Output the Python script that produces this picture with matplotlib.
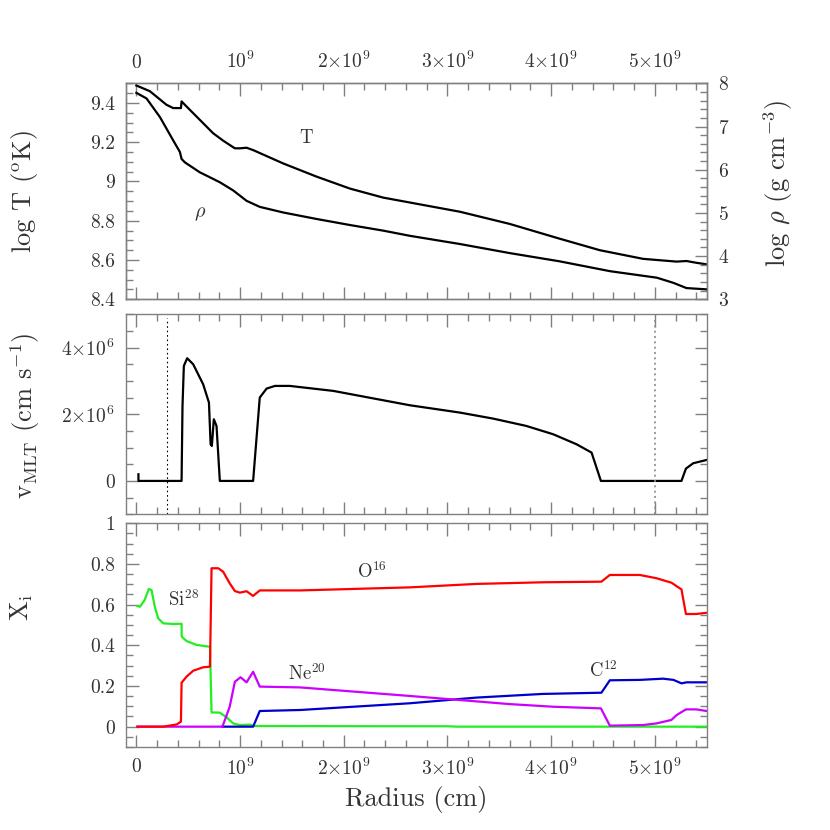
import numpy as np
import matplotlib
matplotlib.use("Agg")
import matplotlib.pyplot as plt
from matplotlib.ticker import MultipleLocator, FixedLocator, FixedFormatter

plt.rcParams['font.family'] = 'serif'
plt.rcParams['font.serif'] = ['cmr10', 'DejaVu Serif']
plt.rcParams['mathtext.fontset'] = 'cm'
plt.rcParams['axes.unicode_minus'] = False
plt.rcParams['axes.formatter.use_mathtext'] = True

# ---------------- data (radius in units of 1e9 cm) ----------------
T_r = [0.0, 0.13, 0.29, 0.355, 0.43, 0.436, 0.484, 0.612, 0.74, 0.837, 0.95, 0.998,
       1.063, 1.126, 1.416, 1.737, 2.059, 2.38, 2.637, 3.12, 3.60, 4.08, 4.47,
       4.887, 5.21, 5.305, 5.40, 5.50]
logT = [9.489, 9.46, 9.391, 9.374, 9.374, 9.408, 9.382, 9.314, 9.246, 9.208, 9.169,
        9.169, 9.172, 9.16, 9.092, 9.025, 8.964, 8.918, 8.893, 8.846, 8.784, 8.709,
        8.650, 8.606, 8.592, 8.595, 8.586, 8.578]

rho_r = [0.0, 0.098, 0.227, 0.355, 0.42, 0.436, 0.468, 0.612, 0.805, 0.934, 1.063,
         1.19, 1.416, 1.737, 2.059, 2.38, 2.637, 3.12, 3.60, 4.08, 4.57, 5.02,
         5.18, 5.305, 5.50]
logrho = [7.78, 7.65, 7.22, 6.68, 6.41, 6.25, 6.17, 5.94, 5.71, 5.52, 5.28, 5.14,
          5.01, 4.86, 4.72, 4.59, 4.47, 4.28, 4.07, 3.88, 3.65, 3.50, 3.38, 3.26, 3.23]

v_r = [0.02, 0.02, 0.436, 0.445, 0.458, 0.49, 0.548, 0.644, 0.70, 0.716, 0.728,
       0.747, 0.773, 0.805, 1.126, 1.19, 1.256, 1.336, 1.48, 1.90, 2.637, 3.12,
       3.44, 3.76, 4.02, 4.245, 4.39, 4.48, 5.257, 5.30, 5.37, 5.50]
v_mlt = [0.2, 0.0, 0.0, 2.25, 3.45, 3.68, 3.5, 2.9, 2.35, 1.1, 1.05, 1.85, 1.65,
         0.0, 0.0, 2.5, 2.77, 2.85, 2.85, 2.7, 2.27, 2.05, 1.87, 1.65, 1.4, 1.1,
         0.85, 0.0, 0.0, 0.37, 0.53, 0.63]  # units of 1e6 cm/s

si_r = [0.01, 0.035, 0.08, 0.12, 0.146, 0.178, 0.21, 0.26, 0.355, 0.436, 0.437,
        0.484, 0.58, 0.71, 0.725, 0.805, 0.87, 0.934, 0.998, 1.094, 1.14, 3.0, 3.1, 5.5]
si28 = [0.593, 0.59, 0.623, 0.677, 0.672, 0.59, 0.533, 0.508, 0.505, 0.506, 0.443,
        0.421, 0.402, 0.393, 0.07, 0.069, 0.046, 0.016, 0.008, 0.01, 0.003, 0.002,
        0.0, 0.0]

o_r = [0.01, 0.26, 0.39, 0.43, 0.436, 0.484, 0.548, 0.644, 0.71, 0.725, 0.79, 0.837,
       0.90, 0.95, 0.998, 1.063, 1.126, 1.19, 1.58, 2.637, 3.28, 3.92, 4.485,
       4.566, 4.855, 5.016, 5.16, 5.257, 5.30, 5.40, 5.50]
o16 = [0.0, 0.0, 0.011, 0.025, 0.216, 0.246, 0.275, 0.292, 0.295, 0.779, 0.779,
       0.762, 0.705, 0.667, 0.659, 0.666, 0.643, 0.670, 0.670, 0.685, 0.702, 0.71,
       0.713, 0.746, 0.746, 0.73, 0.708, 0.675, 0.554, 0.554, 0.56]

ne_r = [0.01, 0.83, 0.90, 0.95, 1.005, 1.063, 1.126, 1.19, 1.58, 2.637, 3.12, 3.60,
        4.02, 4.48, 4.566, 4.887, 5.016, 5.16, 5.21, 5.30, 5.40, 5.50]
ne20 = [0.0, 0.0, 0.098, 0.221, 0.243, 0.218, 0.27, 0.197, 0.193, 0.151, 0.131,
        0.111, 0.098, 0.09, 0.005, 0.008, 0.016, 0.033, 0.057, 0.085, 0.085, 0.077]

c_r = [0.83, 1.126, 1.19, 1.58, 2.637, 3.28, 3.92, 4.485, 4.566, 4.855, 5.08, 5.18,
       5.257, 5.305, 5.50]
c12 = [0.0, 0.0, 0.077, 0.082, 0.115, 0.143, 0.161, 0.167, 0.228, 0.23, 0.236, 0.23,
       0.213, 0.218, 0.218]

x_ticks = [0, 1, 2, 3, 4, 5]
x_ticklabels = ['0', r'$10^9$', r'$2{\times}10^9$', r'$3{\times}10^9$',
                r'$4{\times}10^9$', r'$5{\times}10^9$']
T_ticks = [8.4, 8.6, 8.8, 9.0, 9.2, 9.4]
T_ticklabels = ['8.4', '8.6', '8.8', '9', '9.2', '9.4']
rho_ticks = [3, 4, 5, 6, 7, 8]
v_ticks = [0, 2, 4]
v_ticklabels = ['0', r'$2{\times}10^6$', r'$4{\times}10^6$']
X_ticks = [0, 0.2, 0.4, 0.6, 0.8, 1.0]
X_ticklabels = ['0', '0.2', '0.4', '0.6', '0.8', '1']

E9 = 1e9
E6 = 1e6

# ---------------- style ----------------
SPINE = '0.5'
TXT = '0.2'
FS_TICK = 14
FS_LAB = 19
FS_IN = 13.5

fig = plt.figure(figsize=(8.3, 8.3), dpi=100)
L, W = 0.1518, 0.6996
ax1 = fig.add_axes([L, 0.6394, W, 0.2602])
ax2 = fig.add_axes([L, 0.3804, W, 0.2410])
ax3 = fig.add_axes([L, 0.1000, W, 0.2695])
ax1r = ax1.twinx()


def style(ax):
    for s in ax.spines.values():
        s.set_color(SPINE)
        s.set_linewidth(1.0)
    ax.tick_params(which='both', direction='in', colors=SPINE, labelcolor=TXT,
                   labelsize=FS_TICK, pad=8)
    ax.tick_params(which='major', length=9, width=1.0)
    ax.tick_params(which='minor', length=5, width=1.0)


xmin, xmax = -0.1 * E9, 5.5 * E9
for ax in (ax1, ax2, ax3):
    ax.set_xlim(xmin, xmax)
    ax.xaxis.set_major_locator(FixedLocator([t * E9 for t in x_ticks]))
    ax.xaxis.set_minor_locator(MultipleLocator(0.2 * E9))
    style(ax)
    ax.tick_params(which='both', top=True, bottom=True, right=True, left=True,
                   labeltop=False, labelbottom=False)

# top panel
ax1.plot(np.array(T_r) * E9, logT, color='black', lw=1.6)
ax1.set_ylim(8.4, 9.5)
ax1.yaxis.set_major_locator(FixedLocator(T_ticks))
ax1.yaxis.set_major_formatter(FixedFormatter(T_ticklabels))
ax1.yaxis.set_minor_locator(MultipleLocator(0.05))
ax1.tick_params(which='both', right=False, labeltop=True)
ax1.xaxis.set_major_formatter(FixedFormatter(x_ticklabels))

ax1r.plot(np.array(rho_r) * E9, logrho, color='black', lw=1.6)
ax1r.set_ylim(3, 8)
ax1r.set_xlim(xmin, xmax)
ax1r.yaxis.set_major_locator(FixedLocator(rho_ticks))
ax1r.yaxis.set_minor_locator(MultipleLocator(0.2))
style(ax1r)
ax1r.tick_params(which='both', left=False, right=True)

ax1.text(1.64 * E9, 9.22, 'T', fontsize=FS_IN, color=TXT, ha='center', va='center')
ax1.text(0.61 * E9, 8.835, r'$\rho$', fontsize=FS_IN + 1, color=TXT, ha='center', va='center')

# middle panel
ax2.plot(np.array(v_r) * E9, np.array(v_mlt) * E6, color='black', lw=1.6)
ax2.set_ylim(-1e6, 5e6)
ax2.yaxis.set_major_locator(FixedLocator([t * E6 for t in v_ticks]))
ax2.yaxis.set_major_formatter(FixedFormatter(v_ticklabels))
ax2.yaxis.set_minor_locator(MultipleLocator(0.5e6))
ax2.axvline(0.3 * E9, ymin=0, ymax=0.98, color='black', lw=0.8, ls=(0, (1.5, 2.5)))
ax2.axvline(5.0 * E9, ymin=0, ymax=0.98, color='0.55', lw=1.2, ls=(0, (1.2, 2.0)))

# bottom panel
ax3.plot(np.array(si_r) * E9, si28, color='#22ee22', lw=1.6)
ax3.plot(np.array(c_r) * E9, c12, color='#0000cc', lw=1.6)
ax3.plot(np.array(ne_r) * E9, ne20, color='#cc00ff', lw=1.6)
ax3.plot(np.array(o_r) * E9, o16, color='#ff0000', lw=1.6)
ax3.set_ylim(-0.1, 1.0)
ax3.yaxis.set_major_locator(FixedLocator(X_ticks))
ax3.yaxis.set_major_formatter(FixedFormatter(X_ticklabels))
ax3.yaxis.set_minor_locator(MultipleLocator(0.05))
ax3.tick_params(which='both', labelbottom=True)
ax3.xaxis.set_major_formatter(FixedFormatter(x_ticklabels))

ax3.text(0.45 * E9, 0.623, r'Si$^{28}$', fontsize=FS_IN, color=TXT, ha='center', va='center')
ax3.text(2.27 * E9, 0.762, r'O$^{16}$', fontsize=FS_IN, color=TXT, ha='center', va='center')
ax3.text(1.64 * E9, 0.262, r'Ne$^{20}$', fontsize=FS_IN, color=TXT, ha='center', va='center')
ax3.text(4.50 * E9, 0.275, r'C$^{12}$', fontsize=FS_IN, color=TXT, ha='center', va='center')

# axis labels (figure coordinates)
def ftext(px, py, s, rot=0):
    fig.text(px / 830, 1 - py / 830, s, fontsize=FS_LAB, color=TXT, rotation=rot,
             ha='center', va='center')

ftext(24, 192, r'log T ($^{\rm o}$K)', 90)
ftext(778, 184, r'log $\rho$ (g cm$^{-3}$)', 90)
ftext(25, 416, r'v$_{\rm MLT}$ (cm s$^{-1}$)', 90)
ftext(22, 607, r'X$_{\rm i}$', 90)
ftext(416, 799, 'Radius (cm)')

fig.savefig('out.png', dpi=100)
